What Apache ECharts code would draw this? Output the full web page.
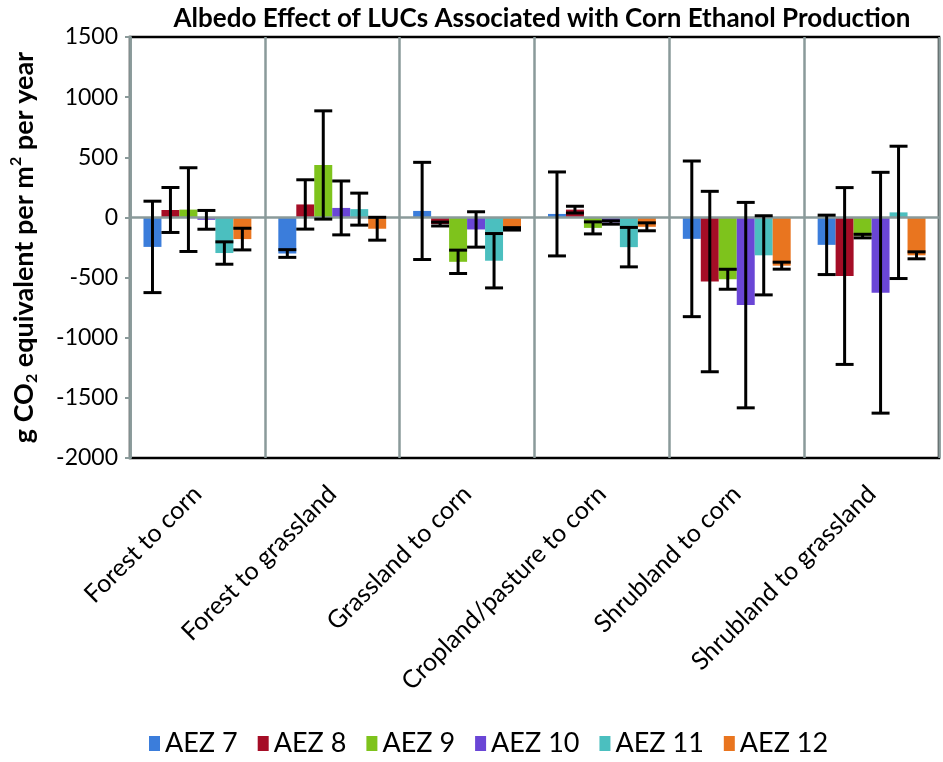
<!DOCTYPE html>
<html>
<head>
<meta charset="utf-8">
<script src="https://cdn.jsdelivr.net/npm/echarts@6/dist/echarts.min.js"></script>
<style>
html,body{margin:0;padding:0;background:#fff;}
#chart{width:943px;height:762px;}
</style>
</head>
<body>
<div id="chart"></div>
<script>
var categories = ['Forest to corn', 'Forest to grassland', 'Grassland to corn', 'Cropland/pasture to corn', 'Shrubland to corn', 'Shrubland to grassland'];
var seriesNames = ['AEZ 7', 'AEZ 8', 'AEZ 9', 'AEZ 10', 'AEZ 11', 'AEZ 12'];
var yTicks = [-2000, -1500, -1000, -500, 0, 500, 1000, 1500];

var aez7 = [-245, -300, 54, 29, -178, -228];
var aez8 = [62, 108, -55, 65, -533, -487];
var aez9 = [65, 436, -369, -87, -514, -155];
var aez10 = [-20, 79, -100, -42, -729, -626];
var aez11 = [-296, 69, -360, -247, -315, 42];
var aez12 = [-180, -94, -95, -78, -401, -315];

var aez7Err = [380, 32, 404, 349, 647, 247];
var aez8Err = [187, 205, 16, 28, 750, 735];
var aez9Err = [348, 450, 97, 50, 83, 15];
var aez10Err = [78, 224, 147, 14, 854, 1001];
var aez11Err = [93, 133, 226, 164, 329, 550];
var aez12Err = [90, 95, 10, 33, 29, 29];

var colors = ['#3b7ddb', '#a50d26', '#7ec31c', '#6a46d6', '#4bbfbf', '#e9751f'];
var values = [aez7, aez8, aez9, aez10, aez11, aez12];
var errs = [aez7Err, aez8Err, aez9Err, aez10Err, aez11Err, aez12Err];

var FONT = 'Lato';
var CAT_GAP = 0.2;
var nSeries = values.length;

var series = [];
values.forEach(function (vals, i) {
  series.push({
    name: seriesNames[i],
    type: 'bar',
    data: vals,
    barGap: '0%',
    barCategoryGap: (CAT_GAP * 100) + '%',
    itemStyle: { color: colors[i] },
    z: 2
  });
});

values.forEach(function (vals, i) {
  var errData = vals.map(function (v, j) { return [j, v - errs[i][j], v + errs[i][j]]; });
  series.push({
    name: seriesNames[i] + ' err',
    type: 'custom',
    data: errData,
    z: 5,
    silent: true,
    encode: { x: 0, y: [1, 2] },
    renderItem: function (params, api) {
      var c = api.value(0);
      var lo = api.coord([c, api.value(1)]);
      var hi = api.coord([c, api.value(2)]);
      var band = api.size([1, 0])[0];
      var bw = band * (1 - CAT_GAP) / nSeries;
      var x = lo[0] - band * (1 - CAT_GAP) / 2 + (i + 0.5) * bw;
      var half = bw / 2;
      var st = { stroke: '#000', lineWidth: 3 };
      return {
        type: 'group',
        children: [
          { type: 'line', shape: { x1: x, y1: lo[1], x2: x, y2: hi[1] }, style: st },
          { type: 'line', shape: { x1: x - half, y1: lo[1], x2: x + half, y2: lo[1] }, style: st },
          { type: 'line', shape: { x1: x - half, y1: hi[1], x2: x + half, y2: hi[1] }, style: st }
        ]
      };
    }
  });
});

var chart = echarts.init(document.getElementById('chart'));
chart.setOption({
  animation: false,
  color: colors,
  title: {
    text: 'Albedo Effect of LUCs Associated with Corn Ethanol Production',
    left: 537,
    textAlign: 'center',
    top: 1,
    textStyle: { fontFamily: FONT, fontWeight: 'bold', fontSize: 26, color: '#000' }
  },
  legend: {
    data: seriesNames,
    bottom: 0,
    left: 144,
    itemWidth: 11,
    itemHeight: 15,
    itemGap: 20,
    icon: 'rect',
    textStyle: { fontFamily: FONT, fontSize: 27, color: '#000' }
  },
  grid: {
    left: 127, right: 4, top: 37, bottom: 304,
    show: true,
    borderColor: '#000',
    borderWidth: 2.5,
    containLabel: false
  },
  xAxis: {
    type: 'category',
    data: categories,
    axisLine: { show: true, onZero: true, lineStyle: { color: '#8a9a9a', width: 2.5 } },
    axisTick: { show: false },
    splitLine: { show: true, lineStyle: { color: '#8a9a9a', width: 2.5 } },
    axisLabel: {
      rotate: 45,
      interval: 0,
      margin: 32,
      fontFamily: FONT,
      fontSize: 25,
      color: '#000'
    },
    z: 3
  },
  yAxis: {
    type: 'value',
    min: yTicks[0],
    max: yTicks[yTicks.length - 1],
    interval: 500,
    name: '{a|g CO}{sub|2}{a| equivalent per m}{sup|2}{a| per year}',
    nameLocation: 'middle',
    nameGap: 90,
    nameTextStyle: {
      rich: {
        a: { fontFamily: FONT, fontWeight: 'bold', fontSize: 27, color: '#000', lineHeight: 32 },
        sub: { fontFamily: FONT, fontWeight: 'bold', fontSize: 16, color: '#000', lineHeight: 32, verticalAlign: 'bottom', padding: [12, 0, 0, 0] },
        sup: { fontFamily: FONT, fontWeight: 'bold', fontSize: 16, color: '#000', lineHeight: 32, verticalAlign: 'top', padding: [0, 0, 12, 0] }
      }
    },
    axisLine: { show: true, lineStyle: { color: '#8a9a9a', width: 2.5 } },
    axisTick: { show: true, inside: false, length: 5, lineStyle: { color: '#8a9a9a', width: 2 } },
    splitLine: { show: false },
    axisLabel: {
      fontFamily: FONT, fontSize: 23, color: '#000', margin: 12,
      formatter: function (v) { return String(v); }
    },
    z: 4
  },
  series: series
});
</script>
</body>
</html>
